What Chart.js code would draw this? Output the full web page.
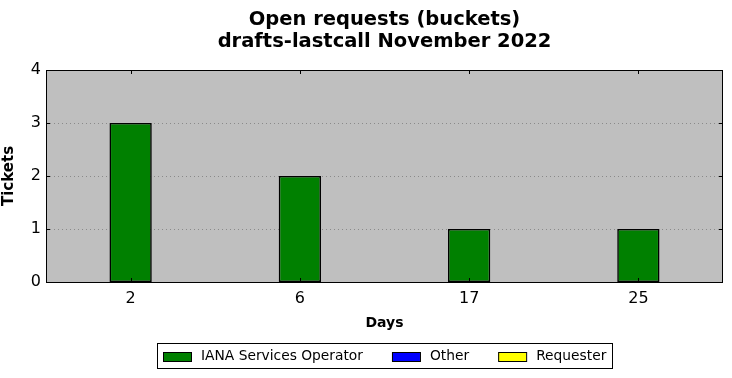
<!DOCTYPE html>
<html>
<head>
<meta charset="utf-8">
<script src="https://cdn.jsdelivr.net/npm/chart.js@4"></script>
<style>
html,body{margin:0;padding:0;background:#fff;}
#wrap{width:732px;height:378px;position:relative;}
</style>
</head>
<body>
<div id="wrap"><canvas id="c" width="732" height="378"></canvas></div>
<script>
const titleLines = ["Open requests (buckets)", "drafts-lastcall November 2022"];
const categories = ["2", "6", "17", "25"];
const ianaValues = [3, 2, 1, 1];
const otherValues = [0, 0, 0, 0];
const requesterValues = [0, 0, 0, 0];
const yTicks = [0, 1, 2, 3, 4];
const seriesNames = ["IANA Services Operator", "Other", "Requester"];
const seriesColors = ["#008000", "#0000ff", "#ffff00"];

const FONT = "'DejaVu Sans', sans-serif";

const decor = {
  id: 'decor',
  beforeDatasetsDraw(chart) {
    const {ctx, chartArea: a} = chart;
    ctx.save();
    ctx.fillStyle = '#bfbfbf';
    ctx.fillRect(a.left, a.top, a.right - a.left, a.bottom - a.top);
    const y = chart.scales.y;
    ctx.strokeStyle = '#8a8a8a';
    ctx.lineWidth = 1;
    ctx.setLineDash([1, 3]);
    yTicks.forEach(v => {
      if (v === yTicks[0] || v === yTicks[yTicks.length - 1]) return;
      const py = Math.round(y.getPixelForValue(v)) + 0.5;
      ctx.beginPath(); ctx.moveTo(a.left, py); ctx.lineTo(a.right, py); ctx.stroke();
    });
    ctx.restore();
  },
  afterDatasetsDraw(chart) {
    const {ctx, chartArea: a} = chart;
    const x = chart.scales.x, y = chart.scales.y;
    ctx.save();
    ctx.strokeStyle = '#000';
    ctx.lineWidth = 1;
    ctx.setLineDash([]);
    categories.forEach((c, i) => {
      const px = Math.round(x.getPixelForValue(i)) + 0.5;
      ctx.beginPath();
      ctx.moveTo(px, a.top); ctx.lineTo(px, a.top + 4);
      ctx.moveTo(px, a.bottom); ctx.lineTo(px, a.bottom - 4);
      ctx.stroke();
    });
    yTicks.forEach(v => {
      const py = Math.round(y.getPixelForValue(v)) + 0.5;
      ctx.beginPath();
      ctx.moveTo(a.left, py); ctx.lineTo(a.left + 4, py);
      ctx.moveTo(a.right, py); ctx.lineTo(a.right - 4, py);
      ctx.stroke();
    });
    ctx.strokeRect(Math.round(a.left) + 0.5, Math.round(a.top) + 0.5,
                   Math.round(a.right - a.left) - 1, Math.round(a.bottom - a.top));
    ctx.restore();
  },
  afterDraw(chart) {
    const {ctx, chartArea: a} = chart;
    const cx = (a.left + a.right) / 2;
    ctx.save();
    ctx.fillStyle = '#000';
    ctx.textAlign = 'center';
    ctx.textBaseline = 'alphabetic';
    ctx.font = "bold 19.5px " + FONT;
    ctx.fillText(titleLines[0], cx, 25);
    ctx.fillText(titleLines[1], cx, 47);
    // legend
    ctx.font = "13.8px " + FONT;
    const sw = 28, sh = 9, gapText = 10, gapItem = 29, padX = 6;
    const widths = seriesNames.map(n => ctx.measureText(n).width);
    let total = padX * 2;
    widths.forEach((w, i) => { total += sw + gapText + w + (i < widths.length - 1 ? gapItem : 0); });
    const lx = Math.round(cx - total / 2), ly = 343, lh = 25;
    ctx.fillStyle = '#fff';
    ctx.fillRect(lx, ly, total, lh);
    ctx.strokeStyle = '#000';
    ctx.lineWidth = 1;
    ctx.strokeRect(lx + 0.5, ly + 0.5, Math.round(total), lh);
    let px = lx + padX;
    const midY = ly + lh / 2 + 0.5;
    seriesNames.forEach((n, i) => {
      ctx.fillStyle = seriesColors[i];
      ctx.fillRect(px, Math.round(midY - sh / 2), sw, sh);
      ctx.strokeStyle = '#000';
      ctx.strokeRect(px + 0.5, Math.round(midY - sh / 2) + 0.5, sw, sh);
      ctx.fillStyle = '#000';
      ctx.textAlign = 'left';
      ctx.textBaseline = 'middle';
      ctx.fillText(n, px + sw + gapText, midY);
      px += sw + gapText + widths[i] + gapItem;
    });
    ctx.restore();
  }
};

new Chart(document.getElementById('c'), {
  type: 'bar',
  data: {
    labels: categories,
    datasets: [
      {label: seriesNames[0], data: ianaValues, backgroundColor: seriesColors[0]},
      {label: seriesNames[1], data: otherValues, backgroundColor: seriesColors[1]},
      {label: seriesNames[2], data: requesterValues, backgroundColor: seriesColors[2]}
    ].map(d => Object.assign(d, {
      borderColor: '#000', borderWidth: 1.6, borderSkipped: false,
      categoryPercentage: 1, barPercentage: 0.25
    }))
  },
  options: {
    responsive: false,
    animation: false,
    devicePixelRatio: 1,
    layout: {padding: {top: 70, left: 0, right: 9, bottom: 46}},
    plugins: {legend: {display: false}, title: {display: false}, tooltip: {enabled: false}},
    scales: {
      x: {
        stacked: true,
        offset: true,
        grid: {display: false, drawTicks: false},
        border: {display: false},
        ticks: {color: '#000', font: {family: FONT, size: 16}, padding: 7, maxRotation: 0},
        title: {display: true, text: 'Days', color: '#000', font: {family: FONT, size: 14, weight: 'bold'}, padding: {top: 2, bottom: 0}},
        afterFit(s) { s.height = 50; }
      },
      y: {
        stacked: true,
        min: 0, max: 4,
        afterBuildTicks(s) { s.ticks = yTicks.map(v => ({value: v})); },
        grid: {display: false, drawTicks: false},
        border: {display: false},
        ticks: {color: '#000', font: {family: FONT, size: 16}, padding: 5},
        title: {display: true, text: 'Tickets', color: '#000', font: {family: FONT, size: 15, weight: 'bold'}, padding: {top: 0, bottom: 4}},
        afterFit(s) { s.width = 46; }
      }
    }
  },
  plugins: [decor]
});
</script>
</body>
</html>
